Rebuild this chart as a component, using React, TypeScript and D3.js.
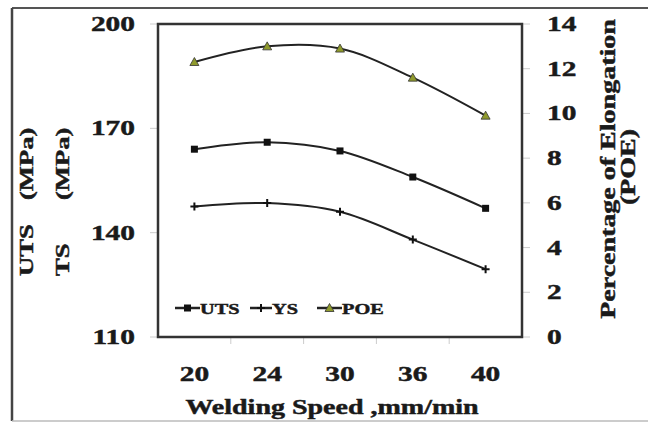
import React from "react";
import * as d3 from "d3";

// welding speed categories and the three measured series
const speeds = ["20", "24", "30", "36", "40"];
const utsValues = [164, 166, 163.5, 156, 147];
const ysValues = [147.5, 148.5, 146, 138, 129.5];
const poeValues = [12.3, 13.0, 12.9, 11.6, 9.9];
const leftTicks = [110, 140, 170, 200];
const rightTicks = [0, 2, 4, 6, 8, 10, 12, 14];

const W = 648;
const H = 425;
const BOX = { left: 158, right: 522, top: 24, bottom: 337 };
const SX = 1.4; // the source text is stretched along its reading direction
const FONT = "'Liberation Serif', 'Times New Roman', serif";
const POE_COLOR = "#8f9a2c";

const SText = ({ x, y, rot = 0, anchor = "start", size = 20, children }) => (
  <text
    transform={`translate(${x},${y}) rotate(${rot}) scale(${SX},1)`}
    textAnchor={anchor}
    fontSize={size}
    fontWeight="bold"
    fontFamily={FONT}
    fill="#1a1a1a"
    stroke="#1a1a1a"
    strokeWidth={0.45}
  >
    {children}
  </text>
);

const Square = ({ x, y }) => <rect x={x - 3.5} y={y - 3.5} width={7} height={7} fill="#111" />;
const Plus = ({ x, y }) => (
  <path d={`M${x - 4},${y}H${x + 4}M${x},${y - 4}V${y + 4}`} stroke="#111" strokeWidth={2} />
);
const Tri = ({ x, y }) => (
  <path
    d={`M${x},${y - 4.5}L${x + 4.5},${y + 3.5}L${x - 4.5},${y + 3.5}Z`}
    fill={POE_COLOR}
    stroke="#333"
    strokeWidth={0.8}
  />
);

const App = () => {
  const x = d3.scalePoint().domain(speeds).range([BOX.left, BOX.right]).padding(0.5);
  const yLeft = d3.scaleLinear().domain([110, 200]).range([BOX.bottom, BOX.top]);
  const yRight = d3.scaleLinear().domain([0, 14]).range([BOX.bottom, BOX.top]);
  const band = x.step();

  const line = (scale) =>
    d3
      .line<number>()
      .x((_, i) => x(speeds[i]))
      .y((d) => scale(d))
      .curve(d3.curveCatmullRom.alpha(0.5));

  const series = [
    { key: "UTS", values: utsValues, scale: yLeft, Marker: Square },
    { key: "YS", values: ysValues, scale: yLeft, Marker: Plus },
    { key: "POE", values: poeValues, scale: yRight, Marker: Tri },
  ];

  const legendY = 308;
  const legendItems = [
    { x0: 175, x1: 200, Marker: Square, label: "UTS" },
    { x0: 250, x1: 272, Marker: Plus, label: "YS" },
    { x0: 317, x1: 342, Marker: Tri, label: "POE" },
  ];

  return (
    <svg width={W} height={H} style={{ position: "absolute", left: 0, top: 0, background: "#fff" }}>
      {/* outer frame of the figure */}
      <line x1={12} x2={W} y1={8} y2={8} stroke="#555" strokeWidth={2} />
      <line x1={12} x2={12} y1={8} y2={421} stroke="#444" strokeWidth={2.5} />
      <line x1={12} x2={W} y1={421} y2={421} stroke="#bbb" strokeWidth={1.5} />

      {/* faint tick marks */}
      {leftTicks.map((t) => (
        <line key={"lt" + t} x1={BOX.left - 8} x2={BOX.left} y1={yLeft(t)} y2={yLeft(t)} stroke="#ccc" />
      ))}
      {rightTicks.map((t) => (
        <line key={"rt" + t} x1={BOX.right} x2={BOX.right + 8} y1={yRight(t)} y2={yRight(t)} stroke="#ccc" />
      ))}
      {speeds.slice(1).map((s) => (
        <line key={"xt" + s} x1={x(s) - band / 2} x2={x(s) - band / 2} y1={BOX.bottom} y2={BOX.bottom + 7} stroke="#ccc" />
      ))}

      <rect
        x={BOX.left}
        y={BOX.top}
        width={BOX.right - BOX.left}
        height={BOX.bottom - BOX.top}
        fill="none"
        stroke="#333"
        strokeWidth={2.5}
      />

      {series.map(({ key, values, scale, Marker }) => (
        <g key={key}>
          <path d={line(scale)(values)} fill="none" stroke="#222" strokeWidth={2} />
          {values.map((v, i) => (
            <Marker key={i} x={x(speeds[i])} y={scale(v)} />
          ))}
        </g>
      ))}

      {/* legend */}
      {legendItems.map(({ x0, x1, Marker, label }) => (
        <g key={label}>
          <line x1={x0} x2={x1} y1={legendY} y2={legendY} stroke="#222" strokeWidth={2.5} />
          <Marker x={(x0 + x1) / 2} y={legendY} />
          <SText x={x1} y={legendY + 6} size={14.5}>
            {label}
          </SText>
        </g>
      ))}

      {/* tick labels */}
      {leftTicks.map((t) => (
        <SText key={"ll" + t} x={135} y={yLeft(t) + 7} anchor="end" size={21}>
          {t}
        </SText>
      ))}
      {rightTicks.map((t) => (
        <SText key={"rl" + t} x={547} y={yRight(t) + 7} size={21}>
          {t}
        </SText>
      ))}
      {speeds.map((s) => (
        <SText key={"xl" + s} x={x(s)} y={381} anchor="middle" size={21}>
          {s}
        </SText>
      ))}

      {/* axis titles */}
      <SText x={332} y={414} anchor="middle" size={20}>
        Welding Speed ,mm/min
      </SText>
      <SText x={33} y={276} rot={-90} size={19}>
        UTS
      </SText>
      <SText x={69} y={276} rot={-90} size={19}>
        TS
      </SText>
      <SText x={33} y={200} rot={-90} size={19}>
        (MPa)
      </SText>
      <SText x={69} y={200} rot={-90} size={19}>
        (MPa)
      </SText>
      <SText x={615} y={169} rot={-90} anchor="middle" size={20}>
        Percentage of Elongation
      </SText>
      <SText x={635} y={167} rot={-90} anchor="middle" size={20}>
        (POE)
      </SText>
    </svg>
  );
};

export default App;
